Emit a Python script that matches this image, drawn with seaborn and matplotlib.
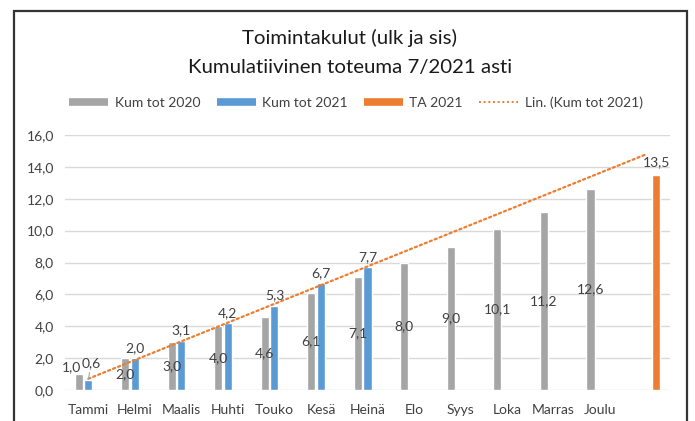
import numpy as np
import pandas as pd
import matplotlib
matplotlib.use("Agg")
import matplotlib.pyplot as plt
import seaborn as sns
from matplotlib.lines import Line2D
from matplotlib.patches import Rectangle

# Kuukaudet (viimeinen paikka = TA 2021)
months = ["Tammi", "Helmi", "Maalis", "Huhti", "Touko", "Kesä", "Heinä",
          "Elo", "Syys", "Loka", "Marras", "Joulu", " "]
kum_2020 = [1.0, 2.0, 3.0, 4.0, 4.6, 6.1, 7.1, 8.0, 9.0, 10.1, 11.2, 12.6]
kum_2021 = [0.6, 2.0, 3.1, 4.2, 5.3, 6.7, 7.7]
ta_2021 = [13.5]
series = ["Kum tot 2020", "Kum tot 2021", "TA 2021"]
colors = ["#A5A5A5", "#5B9BD5", "#ED7D31"]
trend_label = "Lin. (Kum tot 2021)"

rows = []
for m, v in zip(months, kum_2020):
    rows.append((m, series[0], v))
for m, v in zip(months, kum_2021):
    rows.append((m, series[1], v))
rows.append((months[-1], series[2], ta_2021[0]))
df = pd.DataFrame(rows, columns=["kk", "sarja", "arvo"])

sns.set_theme(style="white")
plt.rcParams["font.family"] = ["Lato", "DejaVu Sans"]

fig = plt.figure(figsize=(6.95, 4.21), dpi=100)
ax = fig.add_axes([65 / 695, 31 / 421, 605 / 695, 255 / 421])

sns.barplot(data=df, x="kk", y="arvo", hue="sarja", order=months,
            hue_order=series, palette=colors, saturation=1, width=0.625,
            gap=0.17, errorbar=None, legend=False, ax=ax)

# lineaarinen trendi 2021 -> ulotetaan TA-sarakkeeseen asti
k, b = np.polyfit(np.arange(len(kum_2021)), kum_2021, 1)
xt = np.arange(len(months))
ax.plot(xt, k * xt + b, color="#ED7D31", lw=1.6, linestyle=(0, (1, 1.4)),
        dash_capstyle="round")

fmt = lambda v: f"{v:.1f}".replace(".", ",")
lab_kw = dict(fontsize=10, color="#404040")

# 2020: keskelle, Tammi ylös vasemmalle
c20, c21, cta = ax.containers[0], ax.containers[1], ax.containers[2]
ax.bar_label(c20, labels=[""] + [fmt(p.get_height()) for p in list(c20)[1:]],
             label_type="center", **lab_kw)
p0 = list(c20)[0]
ax.annotate(fmt(p0.get_height()), (p0.get_x() + p0.get_width() / 2, p0.get_height()),
            xytext=(-5, 1), textcoords="offset points", ha="center", va="bottom", **lab_kw)

# 2021: yläpuolelle, Tammi johtoviivalla
ax.bar_label(c21, labels=[""] + [fmt(p.get_height()) for p in list(c21)[1:]],
             padding=3, **lab_kw)
q0 = list(c21)[0]
ax.annotate(fmt(q0.get_height()), (q0.get_x() + q0.get_width() / 2, q0.get_height()),
            xytext=(2, 8), textcoords="offset points", ha="center", va="bottom",
            arrowprops=dict(arrowstyle="-", color="#A6A6A6", lw=0.8, shrinkA=0, shrinkB=1),
            **lab_kw)
ax.bar_label(cta, labels=[fmt(p.get_height()) for p in cta], padding=5, **lab_kw)

ax.set_ylim(0, 16)
ax.set_xlim(-0.5, len(months) - 0.5)
yt = np.arange(0, 17, 2)
ax.set_yticks(yt)
ax.set_yticklabels([fmt(v) for v in yt])
ax.set_xlabel("")
ax.set_ylabel("")
ax.yaxis.grid(True, color="#D9D9D9", lw=1)
ax.set_axisbelow(True)
for s in ax.spines.values():
    s.set_visible(False)
ax.tick_params(axis="both", length=0, labelsize=10, labelcolor="#404040")
ax.tick_params(axis="x", pad=10)
ax.tick_params(axis="y", pad=8)

fig.text(350 / 695, 1 - 38 / 421, "Toimintakulut (ulk ja sis)", ha="center",
         va="center", fontsize=14.7, color="#1a1a1a")
fig.text(350 / 695, 1 - 68 / 421, "Kumulatiivinen toteuma 7/2021 asti", ha="center",
         va="center", fontsize=14.7, color="#1a1a1a")

handles = [Line2D([], [], color=c, lw=5.5, solid_capstyle="butt") for c in colors]
handles.append(Line2D([], [], color="#ED7D31", lw=1.4, linestyle=(0, (1, 1.4))))
fig.legend(handles, series + [trend_label], loc="center", ncol=4,
           bbox_to_anchor=(356 / 695, 1 - 103 / 421), frameon=False, fontsize=10,
           handlelength=2.8, handletextpad=0.45, columnspacing=1.2,
           labelcolor="#404040")

fig.patches.append(Rectangle((14 / 695, -0.05), (687 - 14) / 695, 1.05 - 11 / 421,
                             transform=fig.transFigure, fill=False, ec="#333333",
                             lw=1.6))

fig.savefig("out.png", dpi=100)
